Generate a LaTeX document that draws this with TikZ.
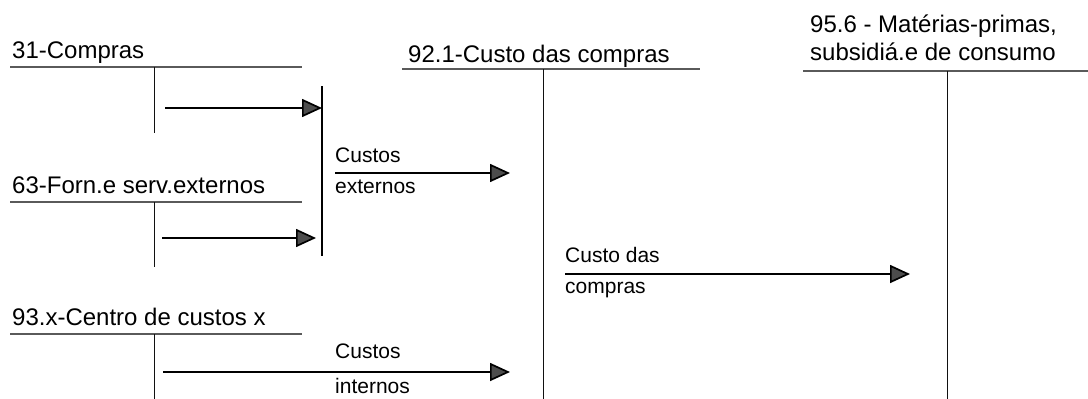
\documentclass[tikz,border=0pt]{standalone}
\usepackage{fontspec}
\setmainfont{Liberation Sans}
\usepackage{xcolor}
\usepackage{tikz}
\usetikzlibrary{arrows.meta,positioning}
\definecolor{taRule}{HTML}{5A5A5A}
\definecolor{taInk}{HTML}{111111}

\tikzset{
  acct/.style={anchor=base west, inner sep=0pt, font=\fontsize{24}{28}\selectfont},
  flowlabel/.style={anchor=base west, inner sep=0pt, font=\fontsize{21}{24}\selectfont},
  rule/.style={draw=taRule, line width=1.5pt},
  stem/.style={draw=taInk, line width=1pt},
  flow/.style={draw=black, line width=1.7pt,
    -{Triangle[length=20pt,width=18pt,fill=black!70]}},
}

\begin{document}
\begin{tikzpicture}[x=1pt,y=-1pt]
  \useasboundingbox (0,0) rectangle (1088,399);
  % accounts on the left
  \foreach \n/\b/\l/\e/\t in {
    c31/58/67/133/31-Compras,
    c63/193/202/267/63-Forn.e serv.externos,
    c93/325/334/399/93.x-Centro de custos x
  } {
    \node[acct] (\n) at (12,\b) {\t};
    \draw[rule] (10,\l) coordinate (\n-l) -- (302,\l) coordinate (\n-r);
    \draw[stem] (154,\l) coordinate (\n-t) -- (154,\e) coordinate (\n-b);
  }
  % accounts 92.1 and 95.6
  \node[acct] (c921) at (408,62) {92.1-Custo das compras};
  \draw[rule] (402,69) coordinate (c921-l) -- (700,69) coordinate (c921-r);
  \draw[stem] (543,69) coordinate (c921-t) -- (543,399) coordinate (c921-b);
  \node[acct] (c956a) at (810,32) {95.6 - Matérias-primas,};
  \node[acct] (c956b) at (810,60) {subsidiá.e de consumo};
  \draw[rule] (803,71) coordinate (c956-l) -- (1088,71) coordinate (c956-r);
  \draw[stem] (947,71) coordinate (c956-t) -- (947,399) coordinate (c956-b);
  % collecting bar
  \coordinate (bartop) at (322,86);
  \coordinate (barbot) at (322,256);
  \draw[draw=black, line width=1.8pt] (bartop) -- (barbot);
  % flows
  \coordinate (f1s) at (165,108);
  \coordinate (f1e) at (322,108);
  \coordinate (f2s) at (162,238);
  \coordinate (f2e) at (316,238);
  \coordinate (f3s) at (335,173);
  \coordinate (f3e) at (510,173);
  \coordinate (f4s) at (565,274);
  \coordinate (f4e) at (910,274);
  \coordinate (f5s) at (163,372);
  \coordinate (f5e) at (510,372);
  \foreach \a/\b in {f1s/f1e, f2s/f2e, f3s/f3e, f4s/f4e, f5s/f5e}
    \draw[flow] (\a) -- (\b);
  \node[flowlabel] (extA) at (335,162) {Custos};
  \node[flowlabel] (extB) at (335,193) {externos};
  \node[flowlabel] (cmpA) at (565,262) {Custo das};
  \node[flowlabel] (cmpB) at (565,293) {compras};
  \node[flowlabel] (intA) at (335,358) {Custos};
  \node[flowlabel] (intB) at (335,393) {internos};
\end{tikzpicture}
\end{document}
